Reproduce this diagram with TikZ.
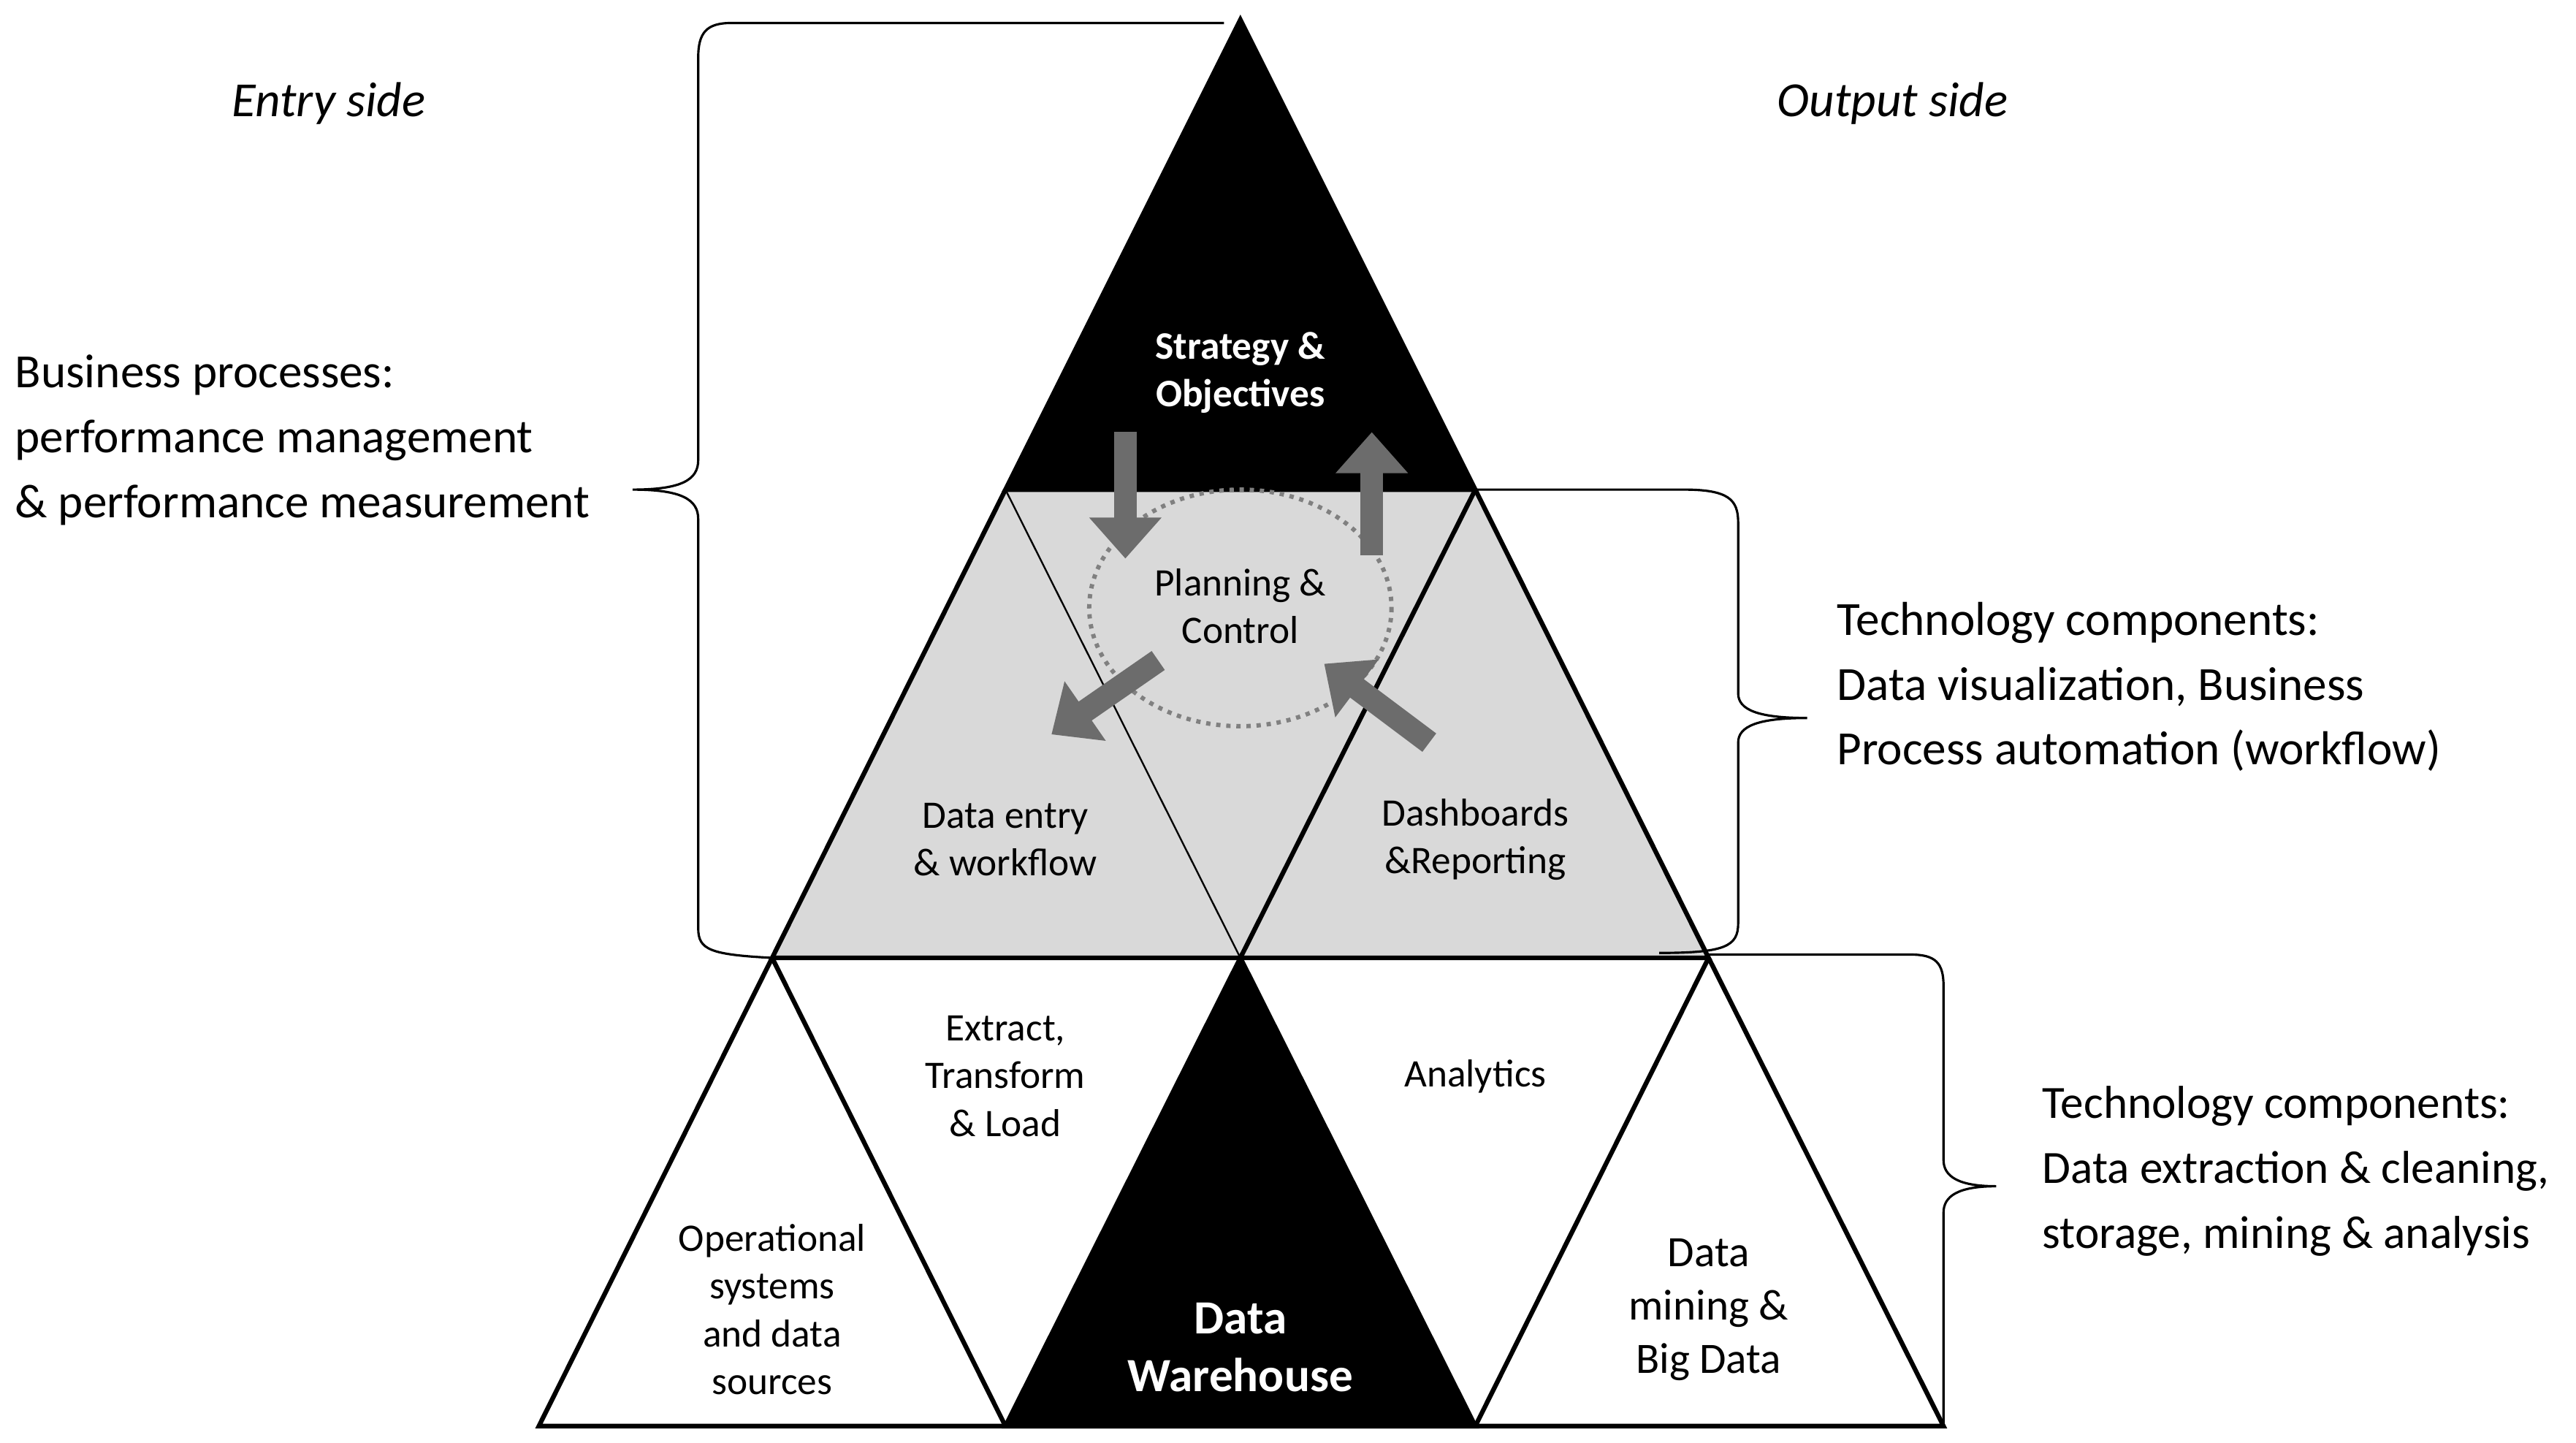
\documentclass[tikz,border=0pt]{standalone}
\usepackage{fontspec}
\setmainfont{Carlito}
\usetikzlibrary{arrows.meta}
\begin{document}
\begin{tikzpicture}[x=0.02cm,y=-0.02cm,
  edge/.style={draw=black,line width=1.6pt,line join=miter},
  thin/.style={draw=black,line width=0.6pt},
  brace/.style={draw=black,line width=0.8pt},
  garrow/.style={draw=gray!85!black,line width=14*0.02cm,-{Triangle[length=0.5cm,width=0.85cm]}},
  big/.style={font=\fontsize{16.5}{22.5}\selectfont,align=left,anchor=west},
  mid/.style={font=\fontsize{13.5}{16.5}\selectfont,align=center},
  wbold/.style={font=\bfseries\fontsize{13.5}{16.5}\selectfont,align=center,text=white}]
\useasboundingbox (0,0) rectangle (1568,878);
\path[fill=gray!30] (612,298) -- (898,298) -- (1040,583) -- (470,583) -- cycle;
\path[fill=black,edge] (755,12) coordinate (apex) -- (612,298) coordinate (tl) -- (898,298) coordinate (tr) -- cycle;
\draw[edge] (tl) -- (470,583) coordinate (ml) -- (1040,583) coordinate (mr) -- (tr);
\draw[thin] (tl) -- (755,583) coordinate (mm);
\draw[edge] (tr) -- (mm);
\draw[edge] (tl) -- (tr);
\draw[edge] (ml) -- (328,868) -- (1183,868) -- (mr);
\draw[edge] (ml) -- (612,868);
\draw[edge] (mr) -- (898,868);
\path[fill=black,edge] (mm) -- (612,868) -- (898,868) -- cycle;
\draw[gray,dotted,line width=1.5pt] (755,370) ellipse [x radius=92, y radius=72];
\draw[garrow] (685,263) -- (685,340);
\draw[garrow] (835,338) -- (835,263);
\draw[garrow] (705,402) -- (640,447);
\draw[garrow] (870,452) -- (806,404);
\draw[brace] (745,14) -- (445,14) .. controls (430,14) and (425,20) .. (425,35) -- (425,280) .. controls (425,292) and (415,298) .. (385,298) .. controls (415,298) and (425,304) .. (425,316) -- (425,565) .. controls (425,578) and (432,581) .. (470,583);
\draw[brace] (898,298) -- (1025,298) .. controls (1052,298) and (1058,304) .. (1058,318) -- (1058,422) .. controls (1058,432) and (1070,437) .. (1100,437) .. controls (1070,437) and (1058,442) .. (1058,452) -- (1058,562) .. controls (1058,576) and (1050,580) .. (1010,580);
\draw[brace] (1040,581) -- (1163,581) .. controls (1178,581) and (1183,586) .. (1183,600) -- (1183,706) .. controls (1183,716) and (1192,722) .. (1215,722) .. controls (1192,722) and (1183,728) .. (1183,738) -- (1183,868);
\node[font=\itshape\fontsize{17}{22.5}\selectfont] (entry) at (200,63) {Entry side};
\node[font=\itshape\fontsize{17}{22.5}\selectfont] (output) at (1152,63) {Output side};
\node[big] (bp) at (3,268) {Business processes:\\performance management\\\& performance measurement};
\node[big] (tc1) at (1112,418) {Technology components:\\Data visualization, Business\\Process automation (workflow)};
\node[big,font=\fontsize{16}{22.5}\selectfont] (tc2) at (1237,713) {Technology components:\\Data extraction \& cleaning,\\storage, mining \& analysis};
\node[wbold] (so) at (755,227) {Strategy \&\\Objectives};
\node[mid] (pc) at (755,369) {Planning \&\\Control};
\node[mid] (de) at (612,511) {Data entry\\\& workflow};
\node[mid] (dr) at (898,511) {Dashboards\\\&Reporting};
\node[mid] (etl) at (612,655) {Extract,\\Transform\\\& Load};
\node[mid] (an) at (898,655) {Analytics};
\node[mid] (op) at (470,797) {Operational\\systems\\and data\\sources};
\node[wbold,font=\bfseries\fontsize{16.5}{20}\selectfont] (dw) at (755,820) {Data\\Warehouse};
\node[mid,font=\fontsize{15}{18.5}\selectfont] (dm) at (1040,797) {Data\\mining \&\\Big Data};
\end{tikzpicture}
\end{document}
